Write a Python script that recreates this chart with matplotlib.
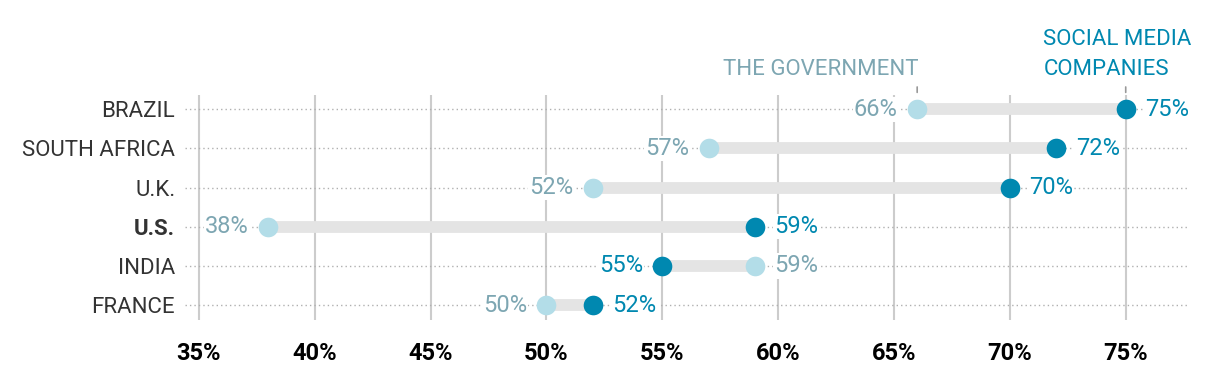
import matplotlib
matplotlib.use("agg")
import matplotlib.pyplot as plt

# data, top row first
countries = ["BRAZIL", "SOUTH AFRICA", "U.K.", "U.S.", "INDIA", "FRANCE"]
government = [66, 57, 52, 38, 59, 50]
social_media = [75, 72, 70, 59, 55, 52]
xticks = [35, 40, 45, 50, 55, 60, 65, 70, 75]

LIGHT = "#b3dde8"
LIGHT_TXT = "#7da6b2"
DARK = "#0088b0"
BAR = "#e4e4e4"
GRID = "#cccccc"

plt.rcParams["font.family"] = ["Roboto", "DejaVu Sans"]

fig = plt.figure(figsize=(12.2, 3.66), dpi=100)
ax = fig.add_axes([0.1516, 0.126, 0.974 - 0.1516, 0.614])

ys = list(range(len(countries)))

for x in xticks:
    ax.axvline(x, color=GRID, lw=1.5, zorder=0)
for y in ys:
    ax.axhline(y, color="#b0b0b0", lw=1.0, ls=(0, (1, 2.2)), zorder=0.5)

for y, g, s in zip(ys, government, social_media):
    ax.plot([g, s], [y, y], color=BAR, lw=8.5, solid_capstyle="butt", zorder=1)

ax.scatter(government, ys, s=200, color=LIGHT, zorder=3, linewidths=0)
ax.scatter(social_media, ys, s=200, color=DARK, zorder=3, linewidths=0)

bb = dict(boxstyle="square,pad=0.05", fc="white", ec="none")
for y, g, s in zip(ys, government, social_media):
    if g < s:
        ax.annotate(f"{g}%", (g, y), xytext=(-14, 0), textcoords="offset points",
                    ha="right", va="center", color=LIGHT_TXT, fontsize=17, bbox=bb, zorder=4)
        ax.annotate(f"{s}%", (s, y), xytext=(14, 0), textcoords="offset points",
                    ha="left", va="center", color=DARK, fontsize=17, bbox=bb, zorder=4)
    else:
        ax.annotate(f"{g}%", (g, y), xytext=(14, 0), textcoords="offset points",
                    ha="left", va="center", color=LIGHT_TXT, fontsize=17, bbox=bb, zorder=4)
        ax.annotate(f"{s}%", (s, y), xytext=(-14, 0), textcoords="offset points",
                    ha="right", va="center", color=DARK, fontsize=17, bbox=bb, zorder=4)

ax.set_xlim(34.4, 77.7)
ax.set_ylim(5.38, -0.36)

ax.set_xticks(xticks)
ax.set_xticklabels([f"{x}%" for x in xticks], fontsize=17, fontweight="bold", color="black")
ax.set_yticks(ys)
ax.set_yticklabels(countries, fontsize=16, color="#333333")
for lab in ax.get_yticklabels():
    if lab.get_text() == "U.S.":
        lab.set_fontweight("bold")
ax.tick_params(axis="y", length=0, pad=7)
ax.tick_params(axis="x", length=0, pad=16)
for sp in ax.spines.values():
    sp.set_visible(False)

# series labels above the first row
ax.annotate("", xy=(government[0], -0.36), xytext=(government[0], -0.64),
            arrowprops=dict(arrowstyle="-", color="#999999", lw=1.2), annotation_clip=False)
ax.annotate("", xy=(social_media[0], -0.36), xytext=(social_media[0], -0.64),
            arrowprops=dict(arrowstyle="-", color="#999999", lw=1.2), annotation_clip=False)
ax.text(government[0] + 0.05, -0.74, "THE GOVERNMENT", ha="right", va="bottom",
        color=LIGHT_TXT, fontsize=16, clip_on=False)
ax.text(social_media[0] - 3.55, -0.74, "SOCIAL MEDIA\nCOMPANIES", ha="left", va="bottom",
        color=DARK, fontsize=16, clip_on=False, linespacing=1.6)

fig.savefig("out.png", dpi=100)
